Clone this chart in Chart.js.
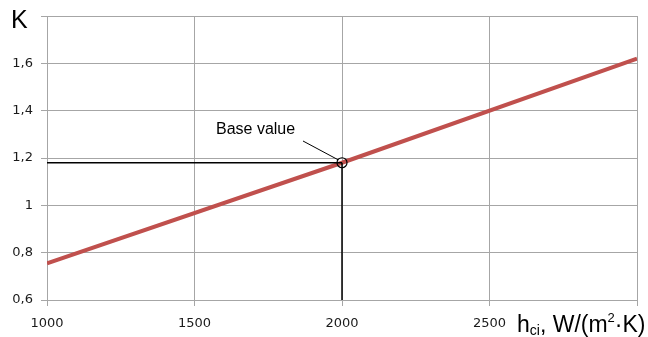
<!DOCTYPE html>
<html>
<head>
<meta charset="utf-8">
<script src="https://cdn.jsdelivr.net/npm/chart.js@4/dist/chart.umd.min.js"></script>
<style>
  html, body { margin: 0; padding: 0; background: #ffffff; }
  #wrap { width: 648px; height: 337px; }
</style>
</head>
<body>
<div id="wrap"><canvas id="c" width="648" height="337"></canvas></div>
<script>
// Heat transfer coefficient h_ci, W/(m²·K)
const hValues = [1000, 2000, 3000];
// Correction factor K along the line
const kValues = [0.755, 1.18, 1.62];
// Base operating point
const baseH = 2000;
const baseK = 1.18;
const baseLabel = 'Base value';
// Axis ticks
const xTicks = [1000, 1500, 2000, 2500, 3000];
const yTicks = [0.6, 0.8, 1.0, 1.2, 1.4, 1.6, 1.8];

const gridColor = '#a6a6a6';
const tickFont = { family: 'DejaVu Sans', size: 13 };

const decorations = {
  id: 'decorations',
  afterDraw(chart) {
    const ctx = chart.ctx;
    const x = chart.scales.x, y = chart.scales.y;
    ctx.save();
    ctx.fillStyle = '#000';
    // y-axis caption
    ctx.font = '25px "Liberation Sans"';
    ctx.textBaseline = 'alphabetic';
    ctx.textAlign = 'left';
    ctx.fillText('K', 11, 28);

    // x-axis caption: h_ci, W/(m²·K)
    let px = 517;
    const base = 332;
    ctx.font = '23px "Liberation Sans"';
    ctx.fillText('h', px, base); px += ctx.measureText('h').width;
    ctx.font = '14px "Liberation Sans"';
    ctx.fillText('ci', px, base + 3); px += ctx.measureText('ci').width;
    ctx.font = '23px "Liberation Sans"';
    ctx.fillText(', W/(m', px, base); px += ctx.measureText(', W/(m').width;
    ctx.font = '13px "Liberation Sans"';
    ctx.fillText('2', px, base - 10); px += ctx.measureText('2').width;
    ctx.font = '23px "Liberation Sans"';
    ctx.fillText('·K)', px, base);

    // label with leader line to the base point
    const bx = x.getPixelForValue(baseH), by = y.getPixelForValue(baseK);
    ctx.font = '16px "Liberation Sans"';
    ctx.textBaseline = 'middle';
    ctx.fillText(baseLabel, 216, 130);
    ctx.strokeStyle = '#000';
    ctx.lineWidth = 1;
    ctx.beginPath();
    ctx.moveTo(303, 141);
    ctx.lineTo(bx - 4, by - 3);
    ctx.stroke();
    ctx.restore();
  }
};

new Chart(document.getElementById('c'), {
  type: 'scatter',
  data: {
    datasets: [
      {
        data: hValues.map((h, i) => ({ x: h, y: kValues[i] })),
        showLine: true,
        borderColor: '#c0504d',
        borderWidth: 4,
        pointRadius: 0,
        order: 2
      },
      {
        data: [{ x: hValues[0], y: baseK }, { x: baseH, y: baseK }],
        showLine: true,
        borderColor: '#000',
        borderWidth: 1.5,
        pointRadius: 0,
        order: 1
      },
      {
        data: [{ x: baseH, y: yTicks[0] }, { x: baseH, y: baseK }],
        showLine: true,
        borderColor: '#000',
        borderWidth: 1.5,
        pointRadius: 0,
        order: 1
      },
      {
        data: [{ x: baseH, y: baseK }],
        showLine: false,
        pointRadius: 5,
        pointBorderColor: '#000',
        pointBackgroundColor: 'rgba(0,0,0,0)',
        pointBorderWidth: 1.2,
        order: 0
      }
    ]
  },
  options: {
    responsive: false,
    animation: false,
    devicePixelRatio: 1,
    layout: { padding: { top: 16, right: 11, left: 0, bottom: 0 } },
    plugins: { legend: { display: false }, tooltip: { enabled: false } },
    scales: {
      x: {
        type: 'linear',
        min: xTicks[0],
        max: xTicks[xTicks.length - 1],
        afterBuildTicks: s => { s.ticks = xTicks.map(v => ({ value: v })); },
        afterFit: s => { s.height = 37; },
        grid: { color: gridColor, lineWidth: 1, tickLength: 6, drawTicks: true },
        border: { color: gridColor, width: 1 },
        ticks: {
          font: tickFont,
          color: '#1a1a1a',
          padding: 10,
          maxRotation: 0,
          callback: v => (v === xTicks[xTicks.length - 1] ? '' : String(v))
        }
      },
      y: {
        type: 'linear',
        min: yTicks[0],
        max: yTicks[yTicks.length - 1],
        afterBuildTicks: s => { s.ticks = yTicks.map(v => ({ value: v })); },
        afterFit: s => { s.width = 47; },
        grid: { color: gridColor, lineWidth: 1, tickLength: 6, drawTicks: true },
        border: { color: gridColor, width: 1 },
        ticks: {
          font: tickFont,
          color: '#1a1a1a',
          padding: 8,
          callback: v => {
            if (Math.abs(v - yTicks[yTicks.length - 1]) < 1e-9) return '';
            return (Math.round(v * 10) / 10).toString().replace('.', ',');
          }
        }
      }
    }
  },
  plugins: [decorations]
});
</script>
</body>
</html>
